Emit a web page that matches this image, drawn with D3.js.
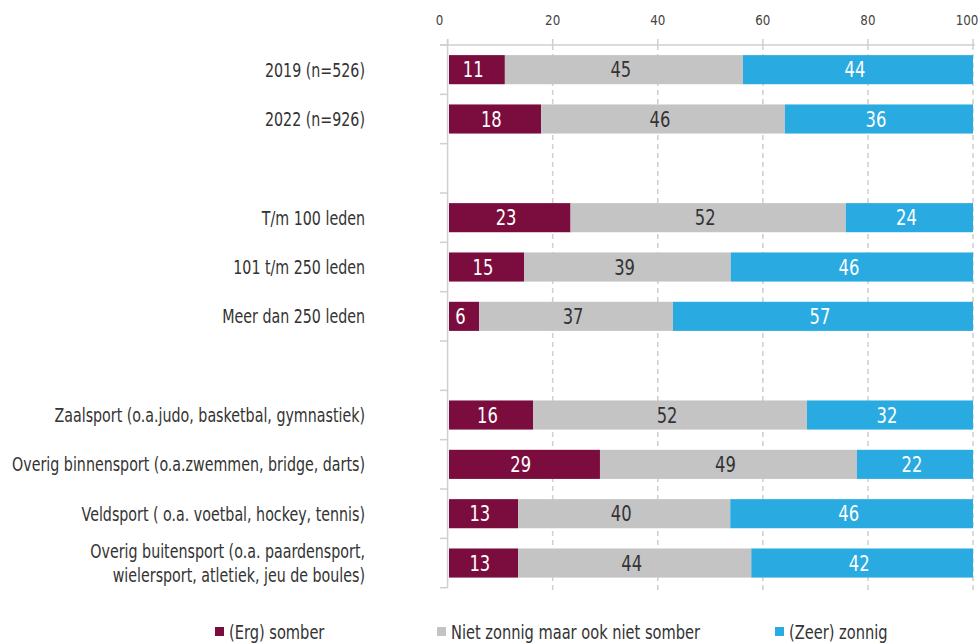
<!DOCTYPE html>
<html>
<head>
<meta charset="utf-8">
<script src="https://cdn.jsdelivr.net/npm/d3@7"></script>
<style>
  body { margin: 0; background: #fff; }
  svg text { font-family: "DejaVu Sans", sans-serif; }
</style>
</head>
<body>
<div id="chart"></div>
<script>
// rows (empty strings are the spacer rows between groups)
const categories = [
  "2019 (n=526)", "2022 (n=926)", "",
  "T/m 100 leden", "101 t/m 250 leden", "Meer dan 250 leden", "",
  "Zaalsport (o.a.judo, basketbal, gymnastiek)",
  "Overig binnensport (o.a.zwemmen, bridge, darts)",
  "Veldsport ( o.a. voetbal, hockey, tennis)",
  "Overig buitensport (o.a. paardensport,|wielersport, atletiek, jeu de boules)"
];
const seriesNames = ["(Erg) somber", "Niet zonnig maar ook niet somber", "(Zeer) zonnig"];
const somber = [10.9, 17.8, null, 23.4, 14.6, 6.0, null, 16.3, 29.0, 13.4, 13.4];
const neutraal = [45.3, 46.4, null, 52.4, 39.3, 36.9, null, 52.1, 48.9, 40.4, 44.4];
const zonnig = [43.8, 35.8, null, 24.2, 46.1, 57.1, null, 31.6, 22.1, 46.2, 42.2];
const xTicks = [0, 20, 40, 60, 80, 100];
const colors = ["#7b0d3e", "#c4c4c5", "#29abe2"];
const textColors = ["#fff", "#333", "#fff"];

const W = 979, H = 644;
const svg = d3.select("#chart").append("svg").attr("width", W).attr("height", H);
// no condensed font installed: squeeze text horizontally
const sq = (px, py, s) => `translate(${px},${py}) scale(${s},1)`;

const x = d3.scaleLinear().domain([0, 100]).range([447.6, 973]);
const y = d3.scaleBand().domain(d3.range(categories.length)).range([45, 587.7]).paddingInner(0.41).paddingOuter(0.205);

const rows = categories.map((c, i) => ({
  label: c, i,
  vals: [somber[i], neutraal[i], zonnig[i]]
})).filter(d => d.label !== "");

// gridlines
svg.append("g").selectAll("line").data(xTicks.slice(1)).join("line")
  .attr("x1", d => x(d)).attr("x2", d => x(d))
  .attr("y1", 45).attr("y2", 590)
  .attr("stroke", "#cfcfcf").attr("stroke-width", 1.5).attr("stroke-dasharray", "5,4");

// top axis
const topAxis = svg.append("g");
topAxis.append("line").attr("x1", 440).attr("x2", 975).attr("y1", 45).attr("y2", 45)
  .attr("stroke", "#cfcfcf").attr("stroke-width", 1.5);
topAxis.selectAll(".tk").data(xTicks).join("line")
  .attr("x1", d => x(d)).attr("x2", d => x(d)).attr("y1", 39).attr("y2", 45)
  .attr("stroke", "#cfcfcf").attr("stroke-width", 1.5);
topAxis.selectAll("text").data(xTicks).join("text")
  .attr("transform", (d, i) => sq(i === 0 ? x(d) - 8 : i === xTicks.length - 1 ? x(d) - 6 : x(d), 25, 0.85))
  .attr("text-anchor", "middle")
  .attr("font-size", 14).attr("fill", "#444").text(d => d);

// left axis
const leftAxis = svg.append("g");
leftAxis.append("line").attr("x1", 447.6).attr("x2", 447.6).attr("y1", 39).attr("y2", 588)
  .attr("stroke", "#cfcfcf").attr("stroke-width", 1.5);
const step = y.step();
leftAxis.selectAll("line.t").data(d3.range(categories.length + 1)).join("line")
  .attr("class", "t")
  .attr("x1", 440).attr("x2", 447.6)
  .attr("y1", i => 45 + i * step).attr("y2", i => 45 + i * step)
  .attr("stroke", "#cfcfcf").attr("stroke-width", 1.5);

// bars
const barG = svg.append("g").selectAll("g").data(rows).join("g");
barG.each(function(d) {
  let acc = 0;
  const segs = d.vals.map((v, k) => { const s = { k, v, x0: acc }; acc += v; return s; });
  const g = d3.select(this);
  g.selectAll("rect").data(segs).join("rect")
    .attr("x", s => x(s.x0) + (s.k === 0 ? 1.4 : 0)).attr("y", y(d.i))
    .attr("width", s => x(s.x0 + s.v) - x(s.x0) - (s.k === 0 ? 1.4 : 0))
    .attr("height", y.bandwidth())
    .attr("fill", s => colors[s.k]);
  g.selectAll("text").data(segs).join("text")
    .attr("transform", s => sq(x(s.x0 + s.v / 2) - 3, y(d.i) + y.bandwidth() / 2, 0.78))
    .attr("dy", "0.36em").attr("text-anchor", "middle")
    .attr("font-size", 21).attr("fill", s => textColors[s.k])
    .text(s => Math.round(s.v));
});

// category labels
const lab = svg.append("g").selectAll("text").data(rows).join("text")
  .attr("text-anchor", "end").attr("font-size", 19).attr("fill", "#333")
  .attr("transform", d => sq(365, y(d.i) + y.bandwidth() / 2, 0.75));
lab.each(function(d) {
  const parts = d.label.split("|");
  const t = d3.select(this);
  parts.forEach((p, j) => {
    t.append("tspan").attr("x", 0)
      .attr("dy", j === 0 ? (0.36 - (parts.length - 1) * 0.63) + "em" : "1.26em")
      .text(p);
  });
});

// legend
const legX = [215, 437, 775];
const leg = svg.append("g").selectAll("g").data(seriesNames).join("g")
  .attr("transform", (d, i) => `translate(${legX[i]},632)`);
leg.append("rect").attr("x", 0).attr("y", -5).attr("width", 9).attr("height", 9)
  .attr("fill", (d, i) => colors[i]);
leg.append("text").attr("transform", sq(14, 0, 0.77)).attr("dy", "0.36em")
  .attr("font-size", 19).attr("fill", "#333").text(d => d);
</script>
</body>
</html>
